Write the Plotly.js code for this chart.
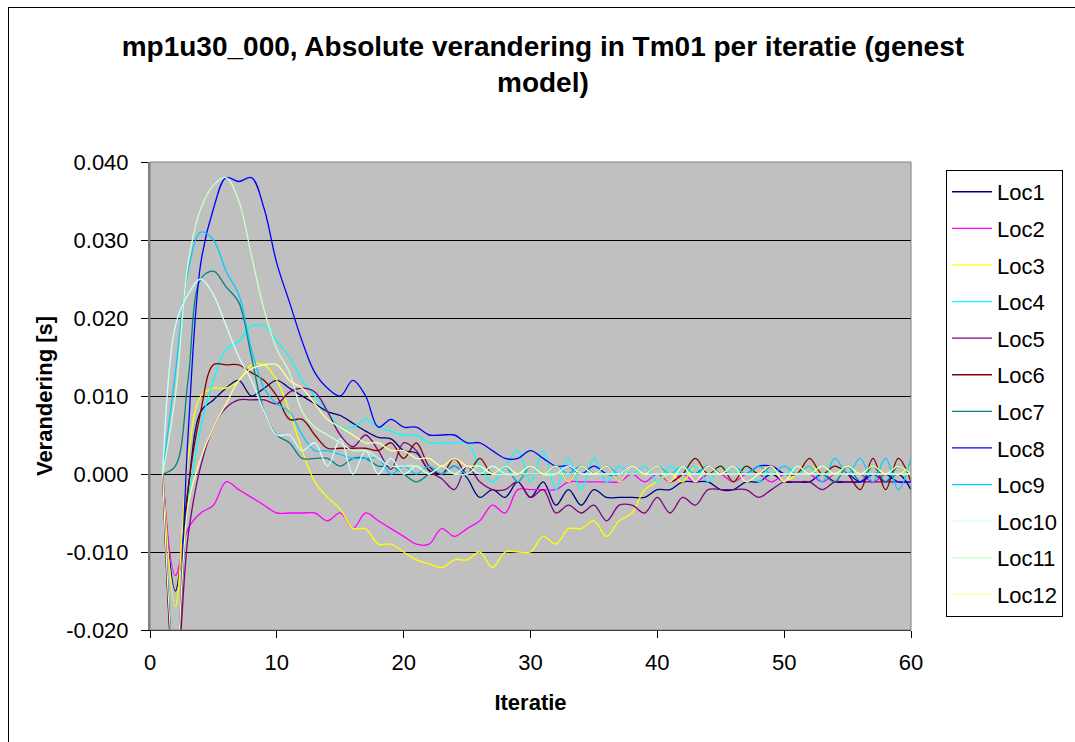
<!DOCTYPE html>
<html>
<head>
<meta charset="utf-8">
<script src="https://cdn.plot.ly/plotly-3.0.1.min.js"></script>
<style>
  html, body { margin: 0; padding: 0; background: #ffffff; overflow: hidden; }
  #wrap { position: relative; width: 1075px; height: 742px; }
  #chart { position: absolute; left: 0; top: 0; width: 1075px; height: 742px; }
  #frame { position: absolute; left: 8px; top: 7px; width: 1100px; height: 800px; border: 1px solid #000; pointer-events: none; }
</style>
</head>
<body>
<div id="wrap">
  <div id="chart"></div>
  <div id="frame"></div>
</div>
<script>
const iterations = [1,2,3,4,5,6,7,8,9,10,11,12,13,14,15,16,17,18,19,20,21,22,23,24,25,26,27,28,29,30,
  31,32,33,34,35,36,37,38,39,40,41,42,43,44,45,46,47,48,49,50,51,52,53,54,55,56,57,58,59,60];

const seriesNames = ["Loc1","Loc2","Loc3","Loc4","Loc5","Loc6","Loc7","Loc8","Loc9","Loc10","Loc11","Loc12"];
const seriesColors = ["#000080","#FF00FF","#FFFF00","#00FFFF","#800080","#800000","#008080","#0000FF","#00CCFF","#CCFFFF","#CCFFCC","#FFFF99"];

const loc1 = [0, -0.015, -0.002, 0.008, 0.0095, 0.011, 0.012, 0.010, 0.011, 0.012,
  0.011, 0.010, 0.009, 0.008, 0.0075, 0.0065, 0.0055, 0.0047, 0.0045, 0.003,
  0.0027, 0.0005, 0.0, 0.001, -0.0005, -0.003, -0.002, -0.003, -0.001, -0.003,
  -0.001, -0.004, -0.002, -0.004, -0.002, -0.003, -0.003, -0.003, -0.003, -0.002,
  -0.002, -0.001, -0.001, -0.001, -0.002, -0.002, -0.001, -0.001, 0.0, -0.001,
  -0.001, -0.001, 0.0, -0.001, -0.001, -0.001, 0.0, -0.001, 0.0, -0.002];
const loc2 = [0, -0.013, -0.007, -0.005, -0.004, -0.001, -0.002, -0.003, -0.004, -0.005,
  -0.005, -0.005, -0.005, -0.006, -0.005, -0.007, -0.005, -0.006, -0.007, -0.008,
  -0.009, -0.009, -0.007, -0.008, -0.007, -0.006, -0.004, -0.005, -0.002, -0.002,
  -0.002, -0.002, -0.001, -0.001, -0.001, -0.001, -0.001, 0.0, -0.001, 0.0,
  -0.001, 0.0, -0.001, 0.0, 0.0, -0.001, 0.0, 0.0, -0.001, 0.0,
  0.0, 0.0, -0.001, 0.0, 0.0, 0.0, -0.001, 0.0, 0.0, 0.0];
const loc3 = [0, -0.017, 0.002, 0.010, 0.011, 0.011, 0.012, 0.014, 0.014, 0.012,
  0.008, 0.003, -0.001, -0.003, -0.0045, -0.007, -0.007, -0.009, -0.009, -0.010,
  -0.011, -0.0115, -0.012, -0.011, -0.011, -0.010, -0.012, -0.010, -0.010, -0.010,
  -0.008, -0.009, -0.007, -0.007, -0.006, -0.008, -0.006, -0.005, -0.002, -0.001,
  0.0, -0.001, 0.001, 0.0, 0.001, -0.001, 0.001, 0.0, 0.001, -0.001,
  0.0, 0.001, 0.0, 0.0, 0.001, 0.0, 0.001, 0.0, 0.0, 0.001];
const loc4 = [0, -0.024, -0.004, 0.006, 0.012, 0.016, 0.017, 0.019, 0.019, 0.017,
  0.015, 0.012, 0.010, 0.008, 0.006, 0.006, 0.007, 0.006, 0.0055, 0.005,
  0.005, 0.004, 0.004, 0.004, 0.004, 0.001, -0.001, 0.001, 0.003, -0.001,
  0.003, -0.002, 0.002, -0.002, 0.002, -0.001, 0.001, 0.0, 0.001, -0.001,
  0.001, 0.0, 0.001, -0.001, 0.001, 0.0, 0.001, -0.001, 0.001, 0.0,
  0.001, 0.0, 0.001, 0.0, 0.001, 0.0, 0.001, -0.001, 0.001, 0.0];
const loc5 = [0, -0.028, -0.008, 0.001, 0.006, 0.0085, 0.0095, 0.0095, 0.0095, 0.009,
  0.0105, 0.011, 0.0105, 0.008, 0.005, 0.0035, 0.005, 0.003, 0.0006, 0.004,
  0.003, 0.0004, -0.0006, -0.002, 0.001, -0.001, -0.002, -0.002, -0.001, -0.003,
  -0.002, -0.005, -0.004, -0.005, -0.004, -0.006, -0.004, -0.004, -0.005, -0.003,
  -0.005, -0.003, -0.004, -0.002, -0.002, -0.002, -0.002, -0.003, -0.002, -0.001,
  -0.001, -0.001, -0.002, -0.001, -0.001, -0.001, -0.001, -0.001, -0.001, -0.001];
const loc6 = [0, -0.028, -0.002, 0.008, 0.014, 0.014, 0.014, 0.013, 0.012, 0.010,
  0.007, 0.007, 0.005, 0.0033, 0.0033, 0.0033, 0.0033, 0.003, 0.004, 0.002,
  0.004, 0.001, 0.0, 0.002, 0.0, 0.002, 0.0, 0.001, -0.001, 0.001,
  0.0, 0.001, -0.001, 0.001, 0.0, 0.001, -0.001, 0.001, 0.0, 0.001,
  -0.001, 0.0, 0.002, 0.0, 0.001, -0.001, 0.001, 0.0, 0.001, 0.0,
  0.0, 0.002, 0.0, 0.001, 0.0, -0.002, 0.002, -0.002, 0.002, -0.001];
const loc7 = [0, 0.001, 0.012, 0.025, 0.026, 0.024, 0.022, 0.015, 0.008, 0.005,
  0.004, 0.002, 0.002, 0.002, 0.001, 0.002, 0.002, 0.001, 0.001, 0.0,
  -0.001, 0.0, 0.001, 0.0, 0.0, 0.001, 0.0, 0.0, 0.0, 0.001,
  0.0, 0.0, 0.0, 0.001, 0.0, 0.0, 0.0, 0.0, 0.0, 0.0,
  0.0, 0.0, 0.0, 0.0, 0.0, 0.0, 0.0, 0.0, 0.0, 0.0,
  0.0, 0.0, 0.0, -0.001, 0.001, -0.001, 0.001, -0.001, 0.001, 0.0];
const loc8 = [0, -0.026, 0.005, 0.027, 0.034, 0.038, 0.0375, 0.038, 0.034, 0.027,
  0.022, 0.017, 0.013, 0.011, 0.010, 0.012, 0.010, 0.006, 0.007, 0.006,
  0.006, 0.005, 0.005, 0.005, 0.004, 0.004, 0.003, 0.002, 0.002, 0.003,
  0.002, 0.001, 0.001, 0.0, 0.001, 0.0, 0.0, 0.001, 0.0, 0.0,
  0.0, 0.0, 0.0, 0.001, 0.0, 0.0, 0.0, 0.001, 0.001, 0.0,
  0.0, 0.0, 0.0, 0.0, 0.0, -0.001, 0.0, 0.0, -0.001, -0.001];
const loc9 = [0, 0.013, 0.026, 0.031, 0.030, 0.026, 0.023, 0.016, 0.011, 0.009,
  0.008, 0.005, 0.003, 0.003, 0.0025, 0.002, 0.002, 0.002, 0.0, 0.001,
  0.0, 0.001, 0.0, 0.001, 0.0, 0.001, 0.0, 0.001, -0.001, 0.001,
  0.0, 0.001, 0.0, 0.001, 0.0, 0.001, 0.0, 0.001, 0.0, 0.001,
  0.0, 0.001, 0.0, 0.001, 0.0, 0.001, 0.0, 0.001, 0.0, 0.001,
  0.0, 0.001, -0.001, 0.002, 0.0, 0.002, -0.001, 0.002, -0.002, 0.002];
const loc10 = [0, 0.019, 0.023, 0.025, 0.023, 0.019, 0.015, 0.012, 0.008, 0.005,
  0.005, 0.003, 0.004, 0.001, 0.0045, 0.0, 0.003, 0.0, 0.002, 0.0,
  0.001, 0.0, 0.001, 0.0, 0.001, 0.0, 0.001, 0.0, 0.0, 0.001,
  0.0, 0.0, 0.001, 0.0, 0.0, 0.0, 0.0, 0.001, 0.0, 0.0,
  0.0, 0.0, 0.0, 0.0, 0.0, 0.0, 0.0, 0.0, 0.0, 0.0,
  0.0, 0.0, 0.0, 0.0, 0.0, 0.0, 0.0, 0.0, 0.0, 0.0];
const loc11 = [0, 0.010, 0.027, 0.034, 0.037, 0.038, 0.035, 0.028, 0.021, 0.016,
  0.013, 0.008, 0.006, 0.005, 0.004, 0.003, 0.003, 0.002, 0.001, 0.001,
  0.001, 0.0, 0.001, 0.0, 0.0, 0.001, 0.0, 0.0, 0.0, 0.0,
  0.0, 0.0, 0.0, 0.0, 0.0, 0.0, 0.0, 0.0, 0.0, 0.0,
  0.0, 0.0, 0.0, 0.0, 0.0, 0.0, 0.0, 0.0, 0.0, 0.0,
  0.0, 0.0, 0.0, 0.0, 0.0, 0.0, 0.0, 0.0, 0.0, 0.0];
const loc12 = [0, -0.026, -0.004, 0.002, 0.006, 0.009, 0.012, 0.0135, 0.014, 0.014,
  0.012, 0.011, 0.009, 0.007, 0.006, 0.005, 0.004, 0.004, 0.003, 0.003,
  0.002, 0.002, 0.001, 0.002, 0.001, 0.001, 0.0, 0.001, 0.0, 0.001,
  0.0, 0.001, -0.001, 0.001, 0.0, 0.001, -0.001, 0.001, 0.0, 0.001,
  -0.001, 0.001, -0.001, 0.001, 0.0, 0.001, -0.001, 0.0, 0.001, -0.001,
  0.001, 0.0, 0.001, 0.0, 0.001, 0.0, 0.001, 0.0, 0.001, 0.0];

const seriesValues = [loc1, loc2, loc3, loc4, loc5, loc6, loc7, loc8, loc9, loc10, loc11, loc12];

const traces = seriesNames.map((name, i) => ({
  type: 'scatter',
  mode: 'lines',
  name: name,
  legendgroup: name,
  x: iterations,
  y: seriesValues[i],
  line: { color: seriesColors[i], width: 1.3, shape: 'spline', smoothing: 1 }
}));

const FONT = 'Liberation Sans, Arial, sans-serif';

const layout = {
  width: 1075,
  height: 742,
  margin: { l: 150, r: 164, t: 162, b: 112, pad: 0 },
  paper_bgcolor: '#ffffff',
  plot_bgcolor: '#C0C0C0',
  font: { family: FONT, color: '#000000', size: 22 },
  title: {
    text: '<b>mp1u30_000, Absolute verandering in Tm01 per iteratie (genest<br>model)</b>',
    font: { family: FONT, size: 28, color: '#000000' },
    xref: 'container', x: 0.505, xanchor: 'center',
    yref: 'container', y: 0.925, yanchor: 'top'
  },
  xaxis: {
    range: [0, 60],
    tickmode: 'array',
    tickvals: [0, 10, 20, 30, 40, 50, 60],
    ticktext: ['0', '10', '20', '30', '40', '50', '60'],
    ticks: 'outside', ticklen: 7, tickcolor: '#000000', tickwidth: 1,
    ticklabelstandoff: 6,
    showgrid: false, zeroline: false,
    showline: true, linecolor: '#000000', linewidth: 1,
    tickfont: { family: FONT, size: 22 },
    title: { text: '<b>Iteratie</b>', font: { family: FONT, size: 22 }, standoff: 20 }
  },
  yaxis: {
    range: [-0.02, 0.04],
    tickmode: 'array',
    tickvals: [-0.02, -0.01, 0, 0.01, 0.02, 0.03, 0.04],
    ticktext: ['-0.020', '-0.010', '0.000', '0.010', '0.020', '0.030', '0.040'],
    ticks: 'outside', ticklen: 7, tickcolor: '#000000', tickwidth: 1,
    ticklabelstandoff: 8,
    showgrid: true, gridcolor: '#000000', gridwidth: 1,
    zeroline: false,
    showline: true, linecolor: '#808080', linewidth: 2,
    tickfont: { family: FONT, size: 22 },
    title: { text: '<b>Verandering [s]</b>', font: { family: FONT, size: 22 }, standoff: 8 }
  },
  shapes: [{
    type: 'rect', xref: 'paper', yref: 'paper', x0: 0, x1: 1, y0: 0, y1: 1,
    line: { color: '#808080', width: 1 }, fillcolor: 'rgba(0,0,0,0)', layer: 'above'
  }],
  showlegend: true,
  legend: {
    x: 1.046, xanchor: 'left', y: 0.983, yanchor: 'top',
    bgcolor: '#ffffff', bordercolor: '#000000', borderwidth: 1,
    font: { family: FONT, size: 22, color: '#000000' },
    tracegroupgap: 5,
    itemwidth: 40
  }
};

Plotly.newPlot('chart', traces, layout, { displayModeBar: false, staticPlot: true });
</script>
</body>
</html>
